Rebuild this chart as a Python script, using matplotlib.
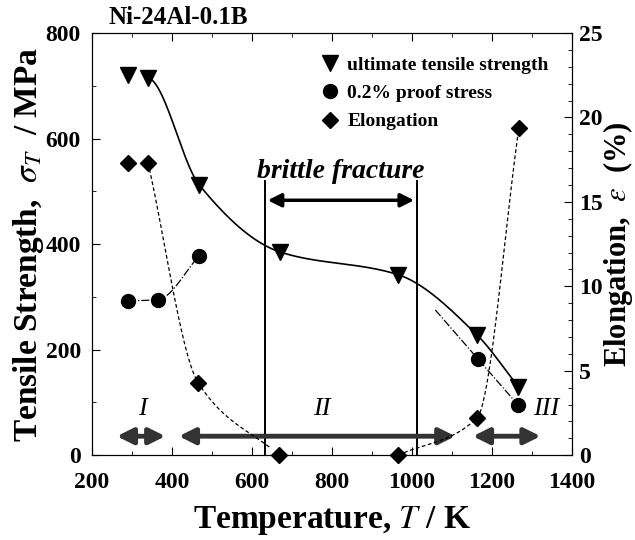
import numpy as np
import matplotlib
matplotlib.use('Agg')
import matplotlib.pyplot as plt
from matplotlib.ticker import MultipleLocator
from matplotlib.lines import Line2D

plt.rcParams['font.family'] = ['Liberation Serif', 'DejaVu Serif']
plt.rcParams['mathtext.fontset'] = 'stix'

# data
temp_uts = [290, 340, 468, 670, 965, 1162, 1265]
uts = [720, 715, 512, 385, 342, 228, 130]

temp_ps = [290, 365, 468, 1165, 1265]
proof = [292, 295, 378, 182, 95]

temp_el = [290, 340, 465, 668, 965, 1162, 1267]
elong = [17.3, 17.3, 4.3, 0.0, 0.0, 2.2, 19.4]

# region arrows (temperature span) and labels
regions = ['I', 'II', 'III']
region_spans = [(255, 390), (410, 1115), (1145, 1328)]
region_label_x = [325, 775, 1335]
brittle_span = (632, 1012)


def pchip(x, y, xn):
    x = np.asarray(x, float)
    y = np.asarray(y, float)
    h = np.diff(x)
    d = np.diff(y) / h
    m = np.zeros_like(x)
    for i in range(1, len(x) - 1):
        if d[i - 1] * d[i] > 0:
            w1 = 2 * h[i] + h[i - 1]
            w2 = h[i] + 2 * h[i - 1]
            m[i] = (w1 + w2) / (w1 / d[i - 1] + w2 / d[i])
    m[0] = d[0]
    m[-1] = d[-1]
    idx = np.clip(np.searchsorted(x, xn) - 1, 0, len(x) - 2)
    t = (xn - x[idx]) / h[idx]
    h00 = 2 * t**3 - 3 * t**2 + 1
    h10 = t**3 - 2 * t**2 + t
    h01 = -2 * t**3 + 3 * t**2
    h11 = t**3 - t**2
    return h00 * y[idx] + h10 * h[idx] * m[idx] + h01 * y[idx + 1] + h11 * h[idx] * m[idx + 1]


fig = plt.figure(figsize=(6.35, 5.4), dpi=100)
ax = fig.add_axes([0.145, 0.157, 0.756, 0.782])
ax2 = ax.twinx()

# guide curves
xs = np.linspace(temp_uts[1], temp_uts[-1], 300)
ax.plot(xs, pchip(temp_uts, uts, xs), color='black', lw=1.2)

xs = np.linspace(temp_ps[0], temp_ps[2], 100)
ax.plot(xs, pchip(temp_ps[:3], proof[:3], xs), color='black', lw=0.9, ls='-.')
slope = (proof[4] - proof[3]) / (temp_ps[4] - temp_ps[3])
xs = np.linspace(1058, temp_ps[-1], 50)
ax.plot(xs, proof[3] + slope * (xs - temp_ps[3]), color='black', lw=0.9, ls='-.')

xs = np.linspace(temp_el[1], temp_el[3] - 20, 200)
ax2.plot(xs, pchip(temp_el[1:4], elong[1:4], xs), color='black', lw=0.9, ls=(0, (3, 2)))
xs = np.linspace(temp_el[4] + 15, temp_el[-1], 200)
ax2.plot(xs, pchip(temp_el[4:], elong[4:], xs), color='black', lw=0.9, ls=(0, (3, 2)))

# markers
ax.plot(temp_uts, uts, 'v', color='black', ms=11)
ax.plot(temp_ps, proof, 'o', color='black', ms=10)
ax2.plot(temp_el, elong, 'D', color='black', ms=8, clip_on=False)

# brittle fracture region
for xv in brittle_span:
    ax.plot([xv, xv], [0, 520], color='black', lw=1.4)
ax.annotate('', xy=(brittle_span[0], 483), xytext=(brittle_span[1], 483),
            arrowprops=dict(arrowstyle='<|-|>', color='black', lw=2.5, mutation_scale=20))
ax.text(np.mean(brittle_span), 538, 'brittle fracture', ha='center', va='center',
        fontsize=20, fontweight='bold', fontstyle='italic')

# regions I, II, III
for name, (a, b), lx in zip(regions, region_spans, region_label_x):
    ax.annotate('', xy=(a, 36), xytext=(b, 36),
                arrowprops=dict(arrowstyle='<|-|>', color='#333333', lw=3.5, mutation_scale=24))
    ax.text(lx, 88, name, ha='center', va='center', fontsize=19, fontstyle='italic',
            clip_on=True)

ax.set_xlim(200, 1400)
ax.set_ylim(0, 800)
ax2.set_ylim(0, 25)

ax.xaxis.set_major_locator(MultipleLocator(200))
ax.xaxis.set_minor_locator(MultipleLocator(100))
ax.yaxis.set_major_locator(MultipleLocator(200))
ax.yaxis.set_minor_locator(MultipleLocator(100))
ax2.yaxis.set_major_locator(MultipleLocator(5))
ax2.yaxis.set_minor_locator(MultipleLocator(1))

ax.tick_params(which='both', direction='in', top=True, right=False, labelsize=17)
ax.tick_params(which='major', length=6)
ax.tick_params(which='minor', length=3)
ax.tick_params(axis='x', pad=12)
ax.tick_params(axis='y', pad=8)
ax2.tick_params(which='both', direction='in', labelsize=17, pad=5)
ax2.tick_params(which='major', length=6)
ax2.tick_params(which='minor', length=3)
for lab in ax.get_xticklabels() + ax.get_yticklabels() + ax2.get_yticklabels():
    lab.set_fontweight('bold')

ax.set_xlabel('Temperature, $T$ / K', fontsize=24, fontweight='bold', labelpad=8)
ax.set_ylabel(r'Tensile Strength,  $\sigma_T$  / MPa', fontsize=24, fontweight='bold', labelpad=0)
ax2.set_ylabel(r'Elongation,  $\varepsilon$  (%)', fontsize=22, fontweight='bold', labelpad=-1)

ax.text(0.035, 1.01, 'Ni-24Al-0.1B', transform=ax.transAxes, fontsize=18,
        fontweight='bold', va='bottom')

handles = [Line2D([], [], marker='v', ls='', color='black', ms=11),
           Line2D([], [], marker='o', ls='', color='black', ms=10),
           Line2D([], [], marker='D', ls='', color='black', ms=8)]
ax.legend(handles, ['ultimate tensile strength', '0.2% proof stress', 'Elongation'],
          loc='upper right', frameon=False, prop=dict(weight='bold', size=14),
          handletextpad=0.3, borderaxespad=0.8, labelspacing=0.55, handlelength=1.2)

fig.savefig('out.png', dpi=100)
